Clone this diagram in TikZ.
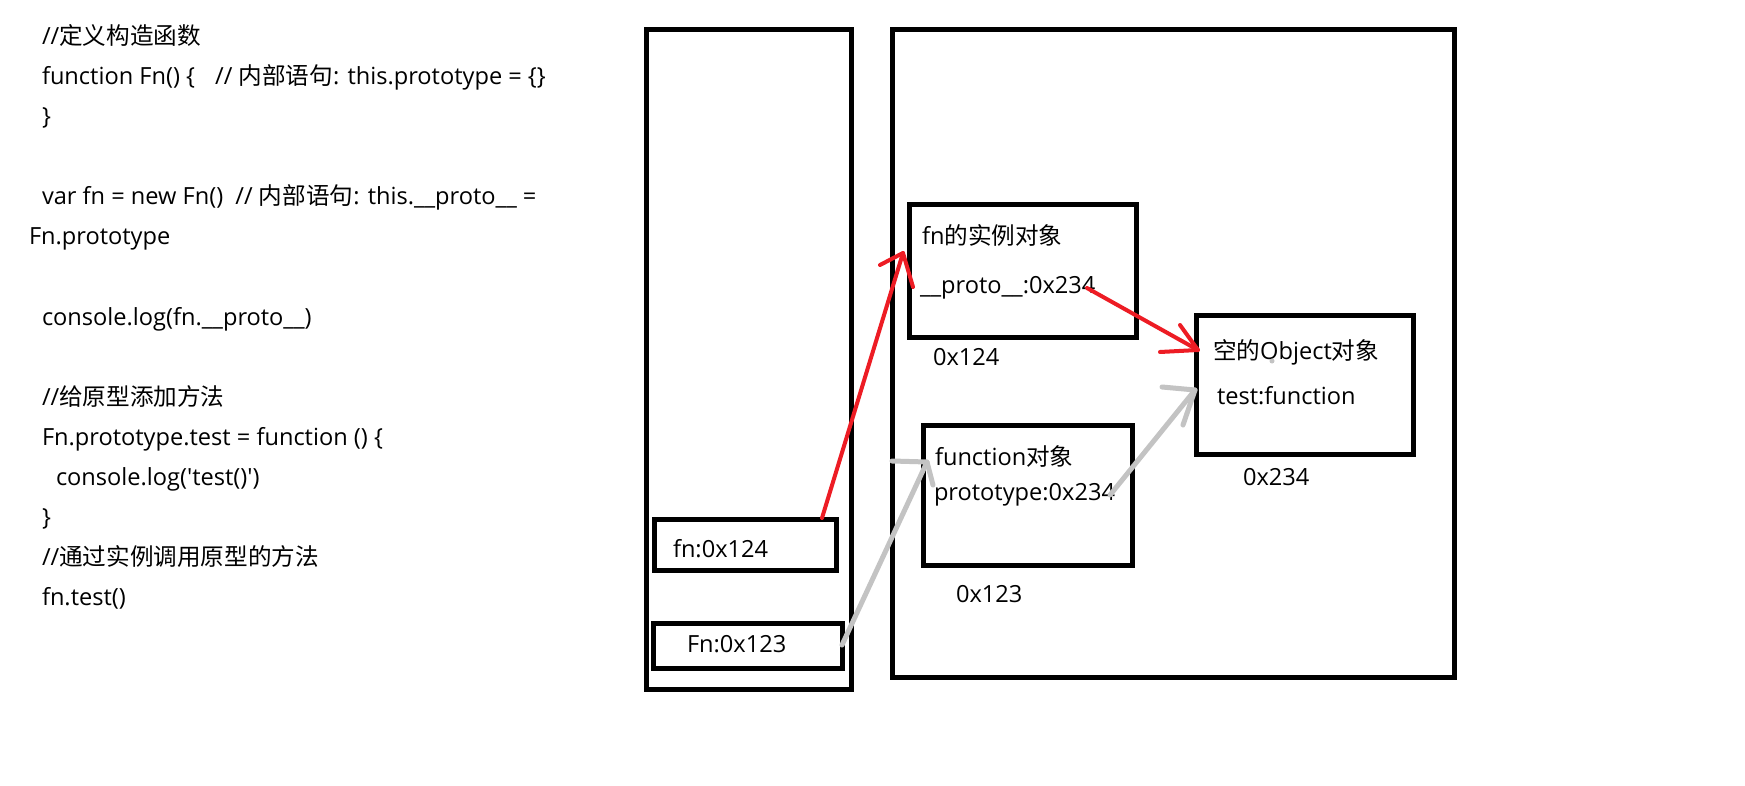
\documentclass[tikz,border=0pt]{standalone}
\usepackage{fontspec}
\setmainfont{Open Sans}
\newfontfamily\cjk{Noto Sans CJK SC}
\definecolor{arrred}{RGB}{237,28,36}
\definecolor{arrgray}{RGB}{195,195,195}
\begin{document}
\begin{tikzpicture}[x=1pt,y=-1pt,
  box/.style={draw=black, line width=5pt, inner sep=0pt, outer sep=0pt, anchor=center},
  txt/.style={anchor=base west, inner sep=0pt, outer sep=0pt, font=\fontsize{23.6}{28}\selectfont},
  redline/.style={draw=arrred, line width=4pt, line cap=round, line join=round},
  grayline/.style={draw=arrgray, line width=5pt, line cap=round, line join=round}
]
\useasboundingbox (0,0) rectangle (1745,786);
\fill[white] (0,0) rectangle (1745,786);

% code text
\node[txt] (c1) at (42,45) {//{\cjk 定义构造函数}};
\node[txt] (c2) at (42,85) {function Fn() \{\hspace{14pt} // {\cjk 内部语句}: this.prototype = \{\}};
\node[txt] (c3) at (42,125) {\}};
\node[txt] (c4) at (42,205) {var fn = new Fn()\hspace{6pt} // {\cjk 内部语句}: this.\_\_proto\_\_ =};
\node[txt] (c5) at (29,245) {Fn.prototype};
\node[txt] (c6) at (42,325) {console.log(fn.\_\_proto\_\_)};
\node[txt] (c7) at (42,405) {//{\cjk 给原型添加方法}};
\node[txt] (c8) at (42,445) {Fn.prototype.test = function () \{};
\node[txt] (c9) at (56,485) {console.log(\textquotesingle test()\textquotesingle)};
\node[txt] (c10) at (42,525) {\}};
\node[txt] (c11) at (42,565) {//{\cjk 通过实例调用原型的方法}};
\node[txt] (c12) at (42,605) {fn.test()};

% boxes
\node[box, minimum width=205pt, minimum height=660pt] (stack) at (748.5,359.5) {};
\node[box, minimum width=562pt, minimum height=648pt] (heap) at (1173,353.5) {};
\node[box, minimum width=182pt, minimum height=51pt] (fnv) at (745,544.5) {};
\node[box, minimum width=189pt, minimum height=45pt] (Fnv) at (747.5,645.5) {};
\node[box, minimum width=227pt, minimum height=132pt] (inst) at (1022.5,271) {};
\node[box, minimum width=217pt, minimum height=139pt] (obj) at (1304.5,384.5) {};
\node[box, minimum width=208.5pt, minimum height=139.5pt] (func) at (1027.75,495.25) {};

% box texts
\node[txt] (tfn) at (673,557) {fn:0x124};
\node[txt] (tFn) at (687,652) {Fn:0x123};
\node[txt] (ti1) at (922,245) {fn{\cjk 的实例对象}};
\node[txt] (ti2) at (920,294) {\_\_proto\_\_:0x234};
\node[txt] (ai) at (933,365) {0x124};
\node[txt] (to1) at (1213,359) {{\cjk 空的}Object{\cjk 对象}};
\node[txt] (to2) at (1217,404) {test:function};
\node[txt] (ao) at (1243,485) {0x234};
\node[txt] (tf1) at (935,465) {function{\cjk 对象}};
\node[txt] (tf2) at (934,500) {prototype:0x234};
\node[txt] (af) at (956,602) {0x123};

% arrow coordinates
\coordinate (r1s) at (822,518);
\coordinate (r1t) at (903,253);
\coordinate (r1a) at (880,265);
\coordinate (r1b) at (913,287);
\coordinate (r2s) at (1087,288);
\coordinate (r2t) at (1198,350);
\coordinate (r2a) at (1180,325);
\coordinate (r2b) at (1160,352);
\coordinate (g1s) at (842,645);
\coordinate (g1t) at (927,462);
\coordinate (g1a) at (892,461);
\coordinate (g1b) at (933,485);
\coordinate (g2s) at (1110,495);
\coordinate (g2t) at (1195,390);
\coordinate (g2a) at (1162,387);
\coordinate (g2b) at (1183,425);

% arrows
\draw[redline] (r1s) -- (r1t);
\draw[redline] (r1a) -- (r1t) -- (r1b);
\draw[redline] (r2s) -- (r2t);
\draw[redline] (r2a) -- (r2t) -- (r2b);
\draw[grayline] (g1s) -- (g1t);
\draw[grayline] (g1a) -- (g1t) -- (g1b);
\draw[grayline] (g2s) -- (g2t);
\draw[grayline] (g2a) -- (g2t) -- (g2b);

% stray dot
\fill[arrgray] (1272,361) circle (2.5pt);
\end{tikzpicture}
\end{document}
